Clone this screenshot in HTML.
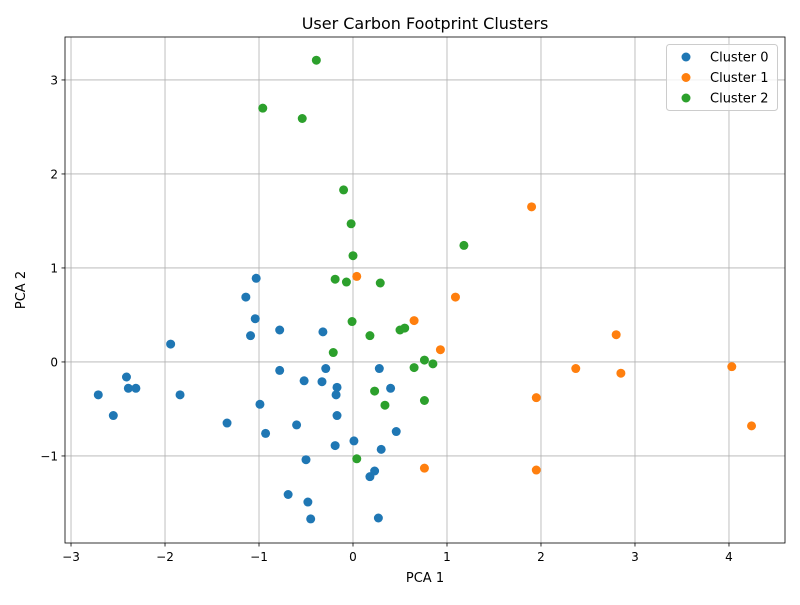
<!DOCTYPE html>
<html><head><meta charset="utf-8"><style>
body{margin:0;background:#fff;font-family:"Liberation Sans","DejaVu Sans",sans-serif;}
svg text{font-family:"DejaVu Sans","Liberation Sans",sans-serif;}
</style></head><body>
<svg id="chart" width="800" height="600"></svg>
<script>
const clusterNames = ["Cluster 0","Cluster 1","Cluster 2"];
const clusterColors = ["#1f77b4","#ff7f0e","#2ca02c"];
const cluster0X = [-2.71,-2.55,-2.41,-2.39,-2.31,-1.94,-1.84,-1.34,-1.14,-1.09,-1.04,-1.03,-0.99,-0.93,-0.78,-0.78,-0.69,-0.60,-0.52,-0.50,-0.48,-0.45,-0.33,-0.32,-0.29,-0.19,-0.18,-0.17,-0.17,0.01,0.18,0.23,0.27,0.28,0.30,0.40,0.46];
const cluster0Y = [-0.35,-0.57,-0.16,-0.28,-0.28,0.19,-0.35,-0.65,0.69,0.28,0.46,0.89,-0.45,-0.76,0.34,-0.09,-1.41,-0.67,-0.20,-1.04,-1.49,-1.67,-0.21,0.32,-0.07,-0.89,-0.35,-0.27,-0.57,-0.84,-1.22,-1.16,-1.66,-0.07,-0.93,-0.28,-0.74];
const cluster1X = [0.04,0.65,0.76,0.93,1.09,1.90,1.95,1.95,2.37,2.80,2.85,4.03,4.24];
const cluster1Y = [0.91,0.44,-1.13,0.13,0.69,1.65,-0.38,-1.15,-0.07,0.29,-0.12,-0.05,-0.68];
const cluster2X = [-0.96,-0.54,-0.39,-0.21,-0.19,-0.10,-0.07,-0.02,-0.01,0.00,0.04,0.18,0.23,0.29,0.34,0.50,0.55,0.65,0.76,0.76,0.85,1.18];
const cluster2Y = [2.70,2.59,3.21,0.10,0.88,1.83,0.85,1.47,0.43,1.13,-1.03,0.28,-0.31,0.84,-0.46,0.34,0.36,-0.06,0.02,-0.41,-0.02,1.24];
const xTicks = [-3,-2,-1,0,1,2,3,4];
const yTicks = [-1,0,1,2,3];
const xTickLabels = ["\u22123","\u22122","\u22121","0","1","2","3","4"];
const yTickLabels = ["\u22121","0","1","2","3"];

const L=65,R=785,T=37,B=543;
const xMin=-3.064,xMax=4.596,yMin=-1.926,yMax=3.457;
const sx=v=>L+(v-xMin)/(xMax-xMin)*(R-L);
const sy=v=>B-(v-yMin)/(yMax-yMin)*(B-T);
const svg=document.getElementById('chart');
const NS="http://www.w3.org/2000/svg";
function mk(tag,attrs,parent){const e=document.createElementNS(NS,tag);for(const k in attrs)e.setAttribute(k,attrs[k]);(parent||svg).appendChild(e);return e;}

// grid
xTicks.forEach((t,i)=>{
  const g=mk('line',{x1:sx(t),x2:sx(t),y1:T,y2:B,stroke:'#b0b0b0','stroke-width':0.8});
  
  
  const tk=mk('line',{x1:sx(t),x2:sx(t),y1:B,y2:B+3.5,stroke:'#000','stroke-width':0.8});
  
  
  const tx=mk('text',{x:sx(t),y:B+18,'font-size':12,'text-anchor':'middle'});
  tx.textContent=xTickLabels[i];
  
  
});
yTicks.forEach((t,i)=>{
  const g=mk('line',{x1:L,x2:R,y1:sy(t),y2:sy(t),stroke:'#b0b0b0','stroke-width':0.8});
  
  
  const tk=mk('line',{x1:L-3.5,x2:L,y1:sy(t),y2:sy(t),stroke:'#000','stroke-width':0.8});
  
  
  const tx=mk('text',{x:L-7,y:sy(t)+4.5,'font-size':12,'text-anchor':'end'});
  tx.textContent=yTickLabels[i];
  
  
});

// points
const xs=[cluster0X,cluster1X,cluster2X], ys=[cluster0Y,cluster1Y,cluster2Y];
xs.forEach((arr,c)=>{
  arr.forEach((v,i)=>{
    const p=mk('circle',{cx:sx(v),cy:sy(ys[c][i]),r:4.5,fill:clusterColors[c]});
    
    
  });
});

// frame
const fr=mk('rect',{x:L,y:T,width:R-L,height:B-T,fill:'none',stroke:'#000','stroke-width':0.8});



// titles
const ti=mk('text',{x:(L+R)/2,y:29,'font-size':16,'text-anchor':'middle'});ti.textContent='User Carbon Footprint Clusters';


const xl=mk('text',{x:(L+R)/2,y:582,'font-size':13,'text-anchor':'middle'});xl.textContent='PCA 1';


const yl=mk('text',{x:0,y:0,'font-size':13,'text-anchor':'middle',transform:'translate(25,290) rotate(-90)'});yl.textContent='PCA 2';



// legend
const lg=mk('g',{});


mk('rect',{x:666.5,y:44.5,width:111,height:66,rx:3,fill:'#fff','fill-opacity':0.8,stroke:'#ccc','stroke-width':1},lg);
clusterNames.forEach((n,i)=>{
  const e=mk('g',{},lg);
  
  
  mk('circle',{cx:686,cy:57+i*20.5,r:4.5,fill:clusterColors[i]},e);
  const t=mk('text',{x:710,y:61.5+i*20.5,'font-size':13},e);t.textContent=n;
});
</script>
</body></html>
